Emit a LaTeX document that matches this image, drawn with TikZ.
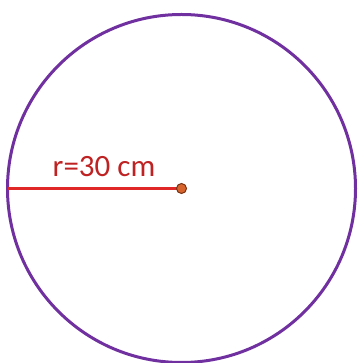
\documentclass[tikz,border=0pt]{standalone}
\usepackage{fontspec}
\setmainfont{Carlito}
\definecolor{rimpurple}{RGB}{112,48,160}
\definecolor{radred}{RGB}{225,40,40}
\definecolor{dotfill}{RGB}{215,100,45}
\definecolor{dotline}{RGB}{120,50,20}
\tikzset{
  rim/.style={draw=rimpurple, line width=3pt},
  radius line/.style={draw=radred, line width=2.6pt},
  centre dot/.style={circle, fill=dotfill, draw=dotline, line width=1pt, inner sep=0pt, minimum size=10pt},
  radius label/.style={text=radred!85!black, font=\fontsize{31}{31}\selectfont, inner sep=0pt, anchor=base}
}
\begin{document}
\begin{tikzpicture}[x=1pt, y=1pt]
  \useasboundingbox (0,0) rectangle (359,363);
  \coordinate (o) at (181.5,174.5);
  \draw[rim] (o) circle (174);
  \coordinate (left) at (7.5,174.5);
  \draw[radius line] (left) -- (o);
  \node[centre dot] (dot) at (o) {};
  \node[radius label] (lbl) at (104,186) {r=30 cm};
\end{tikzpicture}
\end{document}
